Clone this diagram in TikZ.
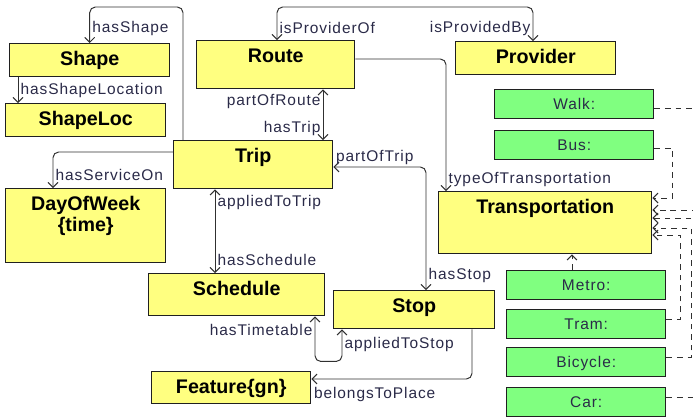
\documentclass[tikz,border=0pt]{standalone}
\usepackage{fontspec}
\setmainfont{Liberation Sans}
\newfontfamily\lblfont[LetterSpace=6]{Liberation Sans}
\usetikzlibrary{arrows.meta}

\definecolor{clsyellow}{HTML}{FFFF80}
\definecolor{kindgreen}{HTML}{80FF80}
\definecolor{boxline}{HTML}{202020}
\definecolor{linkgray}{HTML}{303030}
\definecolor{lblcol}{HTML}{2A2A48}

\tikzset{
	cls/.style 2 args={draw=boxline, line width=1pt, fill=clsyellow, anchor=north west,
		inner xsep=0pt, inner ysep=0pt, font=\bfseries\fontsize{14}{17}\selectfont,
		minimum width=#1, text height=0.55cm, text depth=#2},
	kind/.style={draw=boxline, line width=1pt, fill=kindgreen, anchor=north west,
		inner sep=0pt, minimum width=3.975cm, minimum height=0.72cm,
		font=\lblfont\fontsize{11}{13}\selectfont, text=lblcol, text height=8pt, text depth=0pt},
	lbl/.style={font=\lblfont\fontsize{11}{13}\selectfont, text=lblcol, inner sep=1.5pt},
	assoc/.style={draw=linkgray, line width=0.7pt, rounded corners=4pt},
	gen/.style={draw=linkgray, line width=0.7pt, dash pattern=on 4pt off 3.5pt, ->}
}

\begin{document}
\begin{tikzpicture}[x=0.025cm, y=-0.025cm, >={Straight Barb[length=3.5pt,width=7pt]}]

	\useasboundingbox (0,0) rectangle (693,417);
	\clip (0,0) rectangle (693,417);

	% classes
	\node[cls={4cm}{0.275cm}] (shape) at (9,43) {Shape};
	\node[cls={4cm}{0.275cm}] (shapeloc) at (5,103) {ShapeLoc};
	\node[cls={3.95cm}{0.65cm}] (route) at (196,40) {Route};
	\node[cls={4cm}{0.275cm}] (provider) at (455,41) {Provider};
	\node[cls={3.975cm}{0.65cm}] (trip) at (173,140) {Trip};
	\node[cls={4cm}{0.775cm}, text height=1.075cm, align=center,
		font=\bfseries\fontsize{14}{15}\selectfont] (dow) at (5,188) {DayOfWeek\\\{time\}};
	\node[cls={4.4cm}{0.5cm}] (schedule) at (148,273) {Schedule};
	\node[cls={4.025cm}{0.4cm}] (stop) at (333,290) {Stop};
	\node[cls={3.975cm}{0.25cm}] (feature) at (151,371) {Feature\{gn\}};
	\node[cls={5.325cm}{1cm}] (transport) at (438,191) {Transportation};

	% kinds of transportation
	\node[kind] (walk) at (494,89) {Walk:};
	\node[kind] (bus) at (494,130) {Bus:};
	\foreach \name/\y/\txt in {metro/270/Metro:, tram/309/Tram:, bicycle/347/Bicycle:, car/387/Car:}
		\node[kind] (\name) at (506,\y) {\txt};
		% end for \name

	% associations
	\draw[assoc,->] (trip.north -| 183,0) -- ++(0,-133) -| (shape.north)
		node[lbl,pos=0.8,anchor=west] {hasShape};
	\draw[assoc,->] (shape.south -| 18,0) -- (shapeloc.north -| 18,0)
		node[lbl,midway,anchor=west] {hasShapeLocation};
	\draw[assoc,<->] (route.north -| 277,0) -- node[lbl,pos=0.36,anchor=west] {isProviderOf} ++(0,-33)
		-| (provider.north -| 533,0) node[lbl,pos=0.81,anchor=east] {isProvidedBy};
	\draw[assoc,->] (route.east |- 0,59) -| (transport.north -| 446,0)
		node[lbl,pos=0.955,anchor=west] {typeOfTransportation};
	\draw[assoc,<->] (route.south -| 323,0) -- (trip.north -| 323,0)
		node[lbl,pos=0.23,anchor=east] {partOfRoute}
		node[lbl,pos=0.77,anchor=east] {hasTrip};
	\draw[assoc,->] (trip.west |- 0,152) -| (dow.north -| 53,0)
		node[lbl,pos=0.82,anchor=west] {hasServiceOn};
	\draw[assoc,<->] (trip.south -| 215,0) -- (schedule.north -| 215,0)
		node[lbl,pos=0.16,anchor=west] {appliedToTrip}
		node[lbl,pos=0.85,anchor=west] {hasSchedule};
	\draw[assoc,<->] (trip.east |- 0,167) -| (stop.north -| 426,0)
		node[lbl,pos=0,anchor=south west] {partOfTrip}
		node[lbl,pos=0.943,anchor=west] {hasStop};
	\draw[assoc,<->] (schedule.south -| 315,0) -- node[lbl,pos=0.31,anchor=east] {hasTimetable} ++(0,45)
		-- ++(27,0) -- (stop.south -| 342,0) node[lbl,pos=0.53,anchor=west] {appliedToStop};
	\draw[assoc,->] (stop.south -| 472,0) |- (feature.east |- 0,379)
		node[lbl,at end,anchor=north west,yshift=-0.15cm] {belongsToPlace};

	% generalisations
	\draw[gen] (metro.north -| 572,0) -- (transport.south -| 572,0);
	\draw[gen] (bus.east |- 0,148) -- ++(18,0) |- (transport.east |- 0,198);
	\draw[gen] (walk.east |- 0,108) -- ++(60,0) |- (transport.east |- 0,210);
	\draw[gen] (car.east |- 0,397) -- ++(60,0) |- (transport.east |- 0,218);
	\draw[gen] (bicycle.east |- 0,357) -- ++(25,0) |- (transport.east |- 0,228);
	\draw[gen] (tram.east |- 0,319) -- ++(14,0) |- (transport.east |- 0,235);

\end{tikzpicture}
\end{document}
